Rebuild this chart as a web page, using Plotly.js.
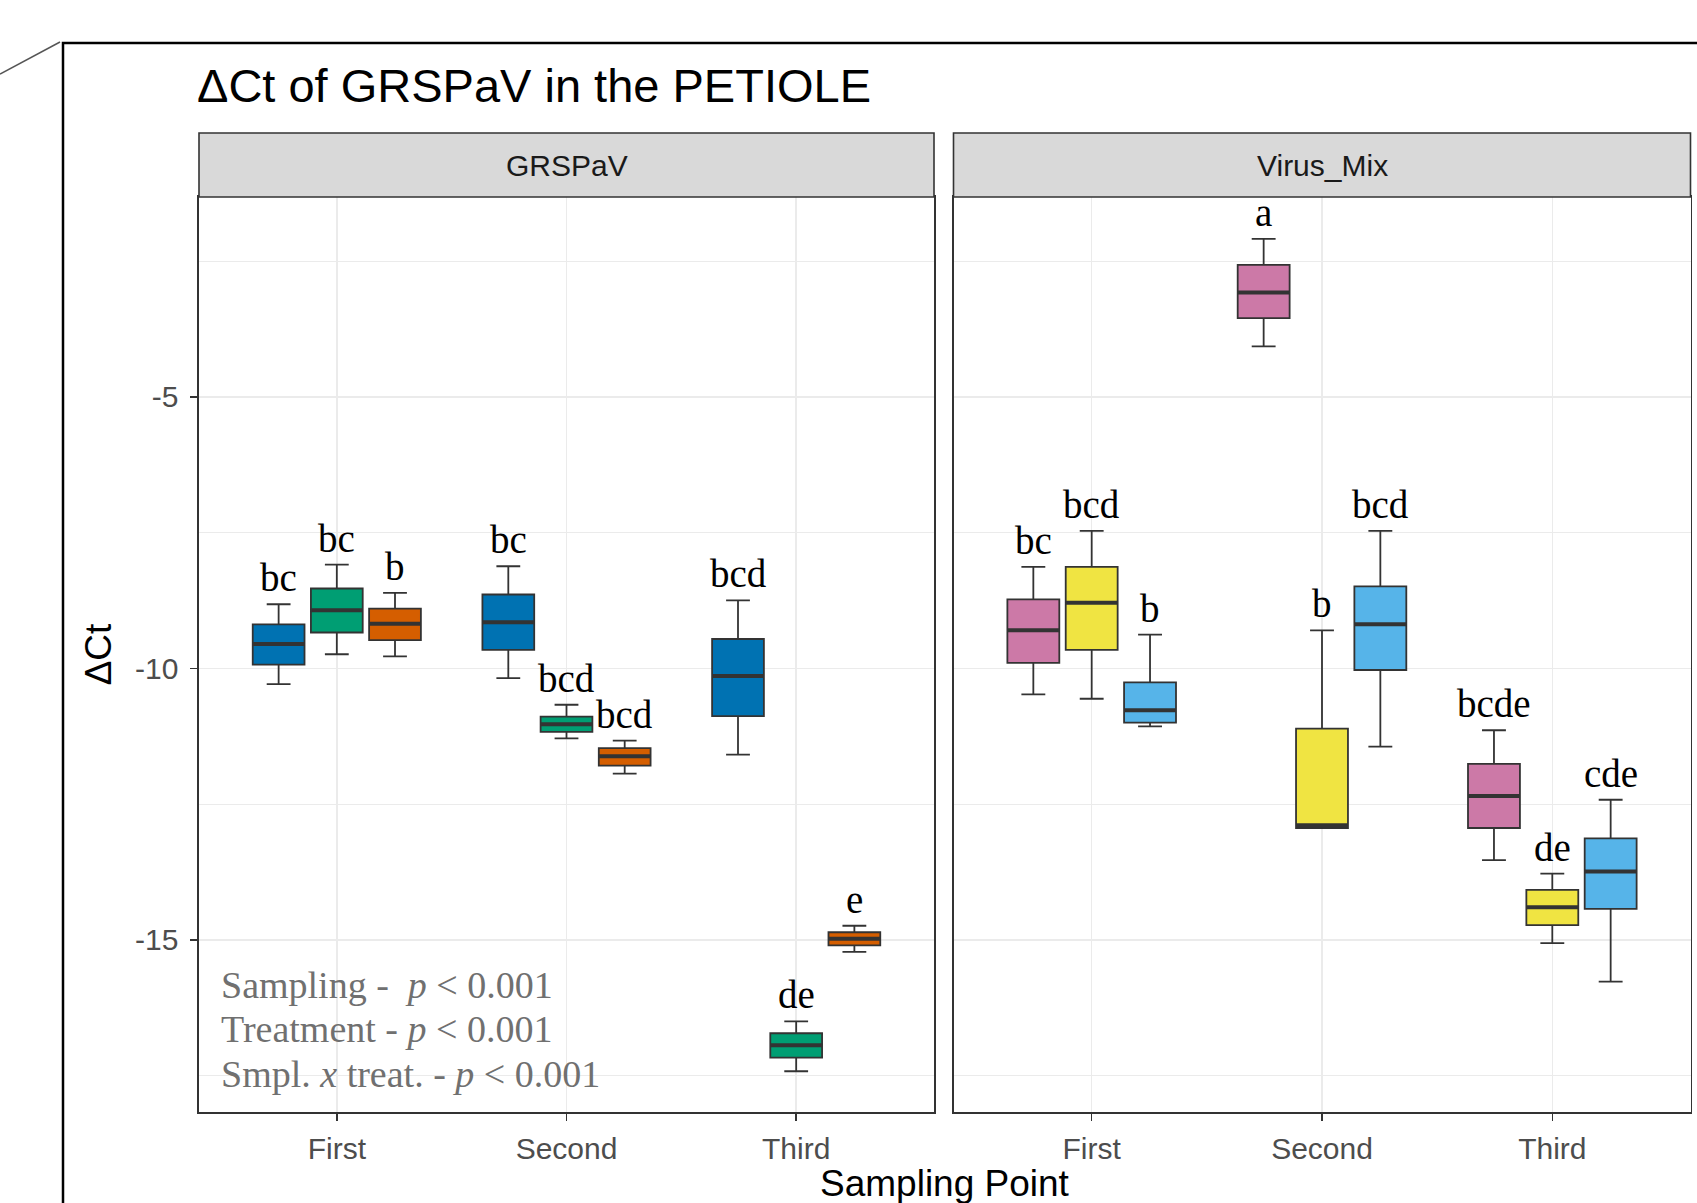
<!DOCTYPE html>
<html><head><meta charset="utf-8">
<script src="https://cdn.plot.ly/plotly-3.0.1.min.js"></script>
<style>html,body{margin:0;padding:0;background:#fff;}#chart{width:1697px;height:1203px;}</style>
</head><body><div id="chart"></div>
<script>
// ---------------- data ----------------
const categories = ['First', 'Second', 'Third'];
const panelNames = ['GRSPaV', 'Virus_Mix'];
const yTickValues = [-15, -10, -5];
const yTickLabels = ['-15', '-10', '-5'];

// GRSPaV panel – treatment 1 (blue)
const gBlueUpper  = [-8.82, -8.12, -8.75];
const gBlueQ3     = [-9.19, -8.64, -9.46];
const gBlueMedian = [-9.55, -9.15, -10.14];
const gBlueQ1     = [-9.93, -9.66, -10.88];
const gBlueLower  = [-10.29, -10.18, -11.59];
const gBlueLetters = ['bc', 'bc', 'bcd'];
// GRSPaV panel – treatment 2 (green)
const gGreenUpper  = [-8.09, -10.67, -16.50];
const gGreenQ3     = [-8.53, -10.89, -16.72];
const gGreenMedian = [-8.93, -11.03, -16.94];
const gGreenQ1     = [-9.34, -11.17, -17.17];
const gGreenLower  = [-9.74, -11.29, -17.42];
const gGreenLetters = ['bc', 'bcd', 'de'];
// GRSPaV panel – treatment 3 (orange)
const gOrangeUpper  = [-8.61, -11.33, -14.74];
const gOrangeQ3     = [-8.90, -11.47, -14.86];
const gOrangeMedian = [-9.18, -11.62, -14.98];
const gOrangeQ1     = [-9.48, -11.79, -15.10];
const gOrangeLower  = [-9.78, -11.94, -15.22];
const gOrangeLetters = ['b', 'bcd', 'e'];

// Virus_Mix panel – treatment 1 (pink)
const vPinkUpper  = [-8.13, -2.09, -11.14];
const vPinkQ3     = [-8.73, -2.57, -11.76];
const vPinkMedian = [-9.30, -3.08, -12.35];
const vPinkQ1     = [-9.90, -3.55, -12.94];
const vPinkLower  = [-10.48, -4.07, -13.53];
const vPinkLetters = ['bc', 'a', 'bcde'];
// Virus_Mix panel – treatment 2 (yellow)
const vYellowUpper  = [-7.47, -9.30, -13.78];
const vYellowQ3     = [-8.13, -11.11, -14.08];
const vYellowMedian = [-8.79, -12.89, -14.40];
const vYellowQ1     = [-9.66, -12.94, -14.73];
const vYellowLower  = [-10.56, -12.94, -15.06];
const vYellowLetters = ['bcd', 'b', 'de'];
// Virus_Mix panel – treatment 3 (sky blue)
const vSkyUpper  = [-9.38, -7.47, -12.42];
const vSkyQ3     = [-10.26, -8.49, -13.13];
const vSkyMedian = [-10.77, -9.19, -13.74];
const vSkyQ1     = [-11.00, -10.03, -14.43];
const vSkyLower  = [-11.07, -11.44, -15.77];
const vSkyLetters = ['b', 'bcd', 'cde'];

const pValueLines = [
  'Sampling -\u00a0 <i>p</i> &lt; 0.001',
  'Treatment - <i>p</i> &lt; 0.001',
  'Smpl. <i>x</i> treat. - <i>p</i> &lt; 0.001'
];

// ---------------- layout helpers ----------------
const W = 1697, H = 1203;
const px = v => v / W;
const py = v => 1 - v / H;
const BOXGAP = 0.24, BOXGROUPGAP = 0.11;
const slot = (1 - BOXGAP) / 3;
const panelX = [[199, 934], [953.5, 1690.5]];
const panelTop = 197, panelBottom = 1112, stripTop = 133;
const sans = 'Liberation Sans, Arial, sans-serif';
const serif = 'Liberation Serif, Times New Roman, serif';

const series = [
  {ax: 'x',  ay: 'y',  k: 0, color: '#0072B2', up: gBlueUpper, q3: gBlueQ3, med: gBlueMedian, q1: gBlueQ1, lo: gBlueLower, lab: gBlueLetters},
  {ax: 'x',  ay: 'y',  k: 1, color: '#009E73', up: gGreenUpper, q3: gGreenQ3, med: gGreenMedian, q1: gGreenQ1, lo: gGreenLower, lab: gGreenLetters},
  {ax: 'x',  ay: 'y',  k: 2, color: '#D55E00', up: gOrangeUpper, q3: gOrangeQ3, med: gOrangeMedian, q1: gOrangeQ1, lo: gOrangeLower, lab: gOrangeLetters},
  {ax: 'x2', ay: 'y2', k: 0, color: '#CC79A7', up: vPinkUpper, q3: vPinkQ3, med: vPinkMedian, q1: vPinkQ1, lo: vPinkLower, lab: vPinkLetters},
  {ax: 'x2', ay: 'y2', k: 1, color: '#F0E442', up: vYellowUpper, q3: vYellowQ3, med: vYellowMedian, q1: vYellowQ1, lo: vYellowLower, lab: vYellowLetters},
  {ax: 'x2', ay: 'y2', k: 2, color: '#56B4E9', up: vSkyUpper, q3: vSkyQ3, med: vSkyMedian, q1: vSkyQ1, lo: vSkyLower, lab: vSkyLetters}
];

const traces = [];
const annotations = [];
series.forEach(s => {
  traces.push({
    type: 'box', x: categories, q1: s.q1, median: s.med, q3: s.q3,
    lowerfence: s.lo, upperfence: s.up,
    xaxis: s.ax, yaxis: s.ay, offsetgroup: 'g' + s.k, alignmentgroup: s.ax,
    fillcolor: s.color, line: {color: '#333333', width: 1.8},
    whiskerwidth: 0.46, boxpoints: false, hoverinfo: 'skip', showlegend: false
  });
  // thick median bar (ggplot fatten)
  traces.push({
    type: 'box', x: categories, q1: s.med, median: s.med, q3: s.med,
    lowerfence: s.med, upperfence: s.med,
    xaxis: s.ax, yaxis: s.ay, offsetgroup: 'g' + s.k, alignmentgroup: s.ax,
    fillcolor: 'rgba(0,0,0,0)', line: {color: '#333333', width: 4},
    whiskerwidth: 0, boxpoints: false, hoverinfo: 'skip', showlegend: false
  });
  s.lab.forEach((t, i) => {
    annotations.push({
      xref: s.ax, yref: s.ay, x: i + (s.k - 1) * slot, y: s.up[i],
      text: t, showarrow: false, xanchor: 'center', yanchor: 'bottom', yshift: 3,
      font: {family: serif, size: 39, color: '#000000'}
    });
  });
});

// strip labels
panelNames.forEach((n, i) => {
  annotations.push({
    xref: 'paper', yref: 'paper', x: px((panelX[i][0] + panelX[i][1]) / 2), y: py((stripTop + panelTop) / 2),
    text: n, showarrow: false, xanchor: 'center', yanchor: 'middle',
    font: {family: sans, size: 30, color: '#1A1A1A'}
  });
});
// p-values
const pY = [985, 1029, 1074];
pValueLines.forEach((t, i) => {
  annotations.push({
    xref: 'paper', yref: 'paper', x: px(219), y: py(pY[i]), text: t, showarrow: false,
    xanchor: 'left', yanchor: 'middle', font: {family: serif, size: 38, color: '#707070'}
  });
});
// x-axis title shared by both panels
annotations.push({
  xref: 'paper', yref: 'paper', x: px((panelX[0][0] + panelX[1][1]) / 2), y: py(1183),
  text: 'Sampling Point', showarrow: false, xanchor: 'center', yanchor: 'middle',
  font: {family: sans, size: 37, color: '#000000'}
});

const shapes = [];
panelNames.forEach((n, i) => {
  shapes.push({type: 'rect', xref: 'paper', yref: 'paper',
    x0: px(panelX[i][0]), x1: px(panelX[i][1]), y0: py(panelTop), y1: py(stripTop),
    fillcolor: '#D9D9D9', line: {color: '#333333', width: 1.6}, layer: 'above'});
});
// outer frame of the figure page
shapes.push({type: 'rect', xref: 'paper', yref: 'paper', x0: px(63), x1: 1.05, y0: -0.05, y1: py(43),
  line: {color: '#000000', width: 2.5}, fillcolor: 'rgba(0,0,0,0)', layer: 'above'});
shapes.push({type: 'line', xref: 'paper', yref: 'paper', x0: 0, y0: py(74), x1: px(60), y1: py(42),
  line: {color: '#555555', width: 1.5}, layer: 'above'});

const xBase = {
  type: 'category', range: [-0.6, 2.6],
  showgrid: true, gridcolor: '#EBEBEB', gridwidth: 1.5, zeroline: false,
  showline: true, mirror: true, linecolor: '#333333', linewidth: 1.6,
  ticks: 'outside', ticklen: 7, tickwidth: 1.5, tickcolor: '#333333',
  tickfont: {family: sans, size: 30, color: '#4D4D4D'}, ticklabelstandoff: 2, fixedrange: true
};
const yBase = {
  domain: [py(panelBottom), py(panelTop)], range: [-18.17, -1.32],
  tickmode: 'array', tickvals: yTickValues, ticktext: yTickLabels,
  showgrid: true, gridcolor: '#EBEBEB', gridwidth: 1.5, zeroline: false,
  minor: {tickmode: 'linear', tick0: 0, dtick: 2.5, showgrid: true, gridcolor: '#EBEBEB', gridwidth: 1, ticks: ''},
  showline: true, mirror: true, linecolor: '#333333', linewidth: 1.6,
  fixedrange: true
};

const layout = {
  width: W, height: H, margin: {l: 0, r: 0, t: 0, b: 0},
  paper_bgcolor: '#ffffff', plot_bgcolor: '#ffffff', showlegend: false,
  boxmode: 'group', boxgap: BOXGAP, boxgroupgap: BOXGROUPGAP,
  title: {text: 'ΔCt of GRSPaV in the PETIOLE', x: px(197), xanchor: 'left', xref: 'paper',
    y: py(86), yanchor: 'middle', yref: 'paper', font: {family: sans, size: 47, color: '#000000'}},
  xaxis: Object.assign({}, xBase, {domain: [px(panelX[0][0]), px(panelX[0][1])], anchor: 'y'}),
  xaxis2: Object.assign({}, xBase, {domain: [px(panelX[1][0]), px(panelX[1][1])], anchor: 'y2'}),
  yaxis: Object.assign({}, yBase, {
    anchor: 'x',
    ticks: 'outside', ticklen: 7, tickwidth: 1.5, tickcolor: '#333333',
    tickfont: {family: sans, size: 30, color: '#4D4D4D'}, ticklabelstandoff: 6,
    title: {text: 'ΔCt', font: {family: sans, size: 37, color: '#000000'}, standoff: 12}
  }),
  yaxis2: Object.assign({}, yBase, {anchor: 'x2', matches: 'y', ticks: '', showticklabels: false}),
  annotations: annotations,
  shapes: shapes
};

Plotly.newPlot('chart', traces, layout, {staticPlot: true, displayModeBar: false});
</script>
</body></html>
